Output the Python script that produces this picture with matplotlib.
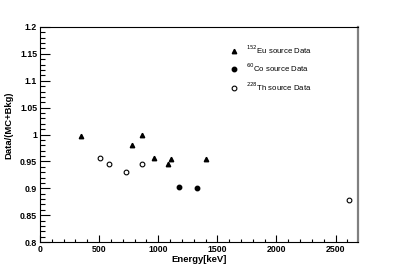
import matplotlib
matplotlib.use("Agg")
import matplotlib.pyplot as plt
from matplotlib.ticker import MultipleLocator, FixedFormatter, FixedLocator

plt.rcParams['font.family'] = ['Liberation Sans', 'DejaVu Sans']

# Eu-152 source
eu_energy = [344, 779, 867, 964, 1086, 1112, 1408]
eu_ratio = [0.997, 0.980, 1.000, 0.956, 0.946, 0.955, 0.954]
# Co-60 source
co_energy = [1173, 1332]
co_ratio = [0.903, 0.900]
# Th-228 source
th_energy = [510, 583, 727, 860, 2614]
th_ratio = [0.956, 0.945, 0.930, 0.945, 0.879]

y_ticks = [0.8, 0.85, 0.9, 0.95, 1.0, 1.05, 1.1, 1.15, 1.2]
y_labels = ['0.8', '0.85', '0.9', '0.95', '1', '1.05', '1.1', '1.15', '1.2']

fig = plt.figure(figsize=(3.99, 2.70), dpi=100)
ax = fig.add_axes([40 / 399, 28 / 270, 318 / 399, 215 / 270])

ax.plot(eu_energy, eu_ratio, '^', color='black', markersize=3.2, label=r'$^{152}$Eu source Data')
ax.plot(co_energy, co_ratio, 'o', color='black', markersize=3.2, label=r'$^{60}$Co source Data')
ax.plot(th_energy, th_ratio, 'o', mfc='white', mec='black', mew=0.8, markersize=3.4,
        label=r'$^{228}$Th source Data')

ax.set_xlim(0, 2690)
ax.set_ylim(0.8, 1.2)

ax.xaxis.set_major_locator(MultipleLocator(500))
ax.xaxis.set_minor_locator(MultipleLocator(100))
ax.yaxis.set_major_locator(FixedLocator(y_ticks))
ax.yaxis.set_major_formatter(FixedFormatter(y_labels))
ax.yaxis.set_minor_locator(MultipleLocator(0.01))

ax.tick_params(axis='x', which='major', direction='in', length=4.8, width=0.8, labelsize=6.3, pad=2)
ax.tick_params(axis='x', which='minor', direction='in', length=2, width=0.8)
ax.tick_params(axis='y', which='major', direction='in', length=7, width=0.8, labelsize=6.3, pad=2)
ax.tick_params(axis='y', which='minor', direction='in', length=3.5, width=0.8)
for lab in ax.get_xticklabels() + ax.get_yticklabels():
    lab.set_fontweight('bold')

for side in ['left', 'bottom', 'top']:
    ax.spines[side].set_linewidth(0.8)
ax.spines['right'].set_color('#808080')
ax.spines['right'].set_linewidth(1.6)

ax.set_xlabel('Energy[keV]', fontsize=6.8, fontweight='bold', labelpad=1)
ax.set_ylabel('Data/(MC+Bkg)', fontsize=6.8, fontweight='bold')
ax.yaxis.set_label_coords(-0.084, 0.545)

leg = ax.legend(loc='upper left', bbox_to_anchor=(226 / 399, 1 - 40 / 270),
                bbox_transform=fig.transFigure, frameon=False, fontsize=5.6,
                handletextpad=1.0, labelspacing=0.8, handlelength=1.2, borderaxespad=0)

fig.savefig('out.png', dpi=100)
